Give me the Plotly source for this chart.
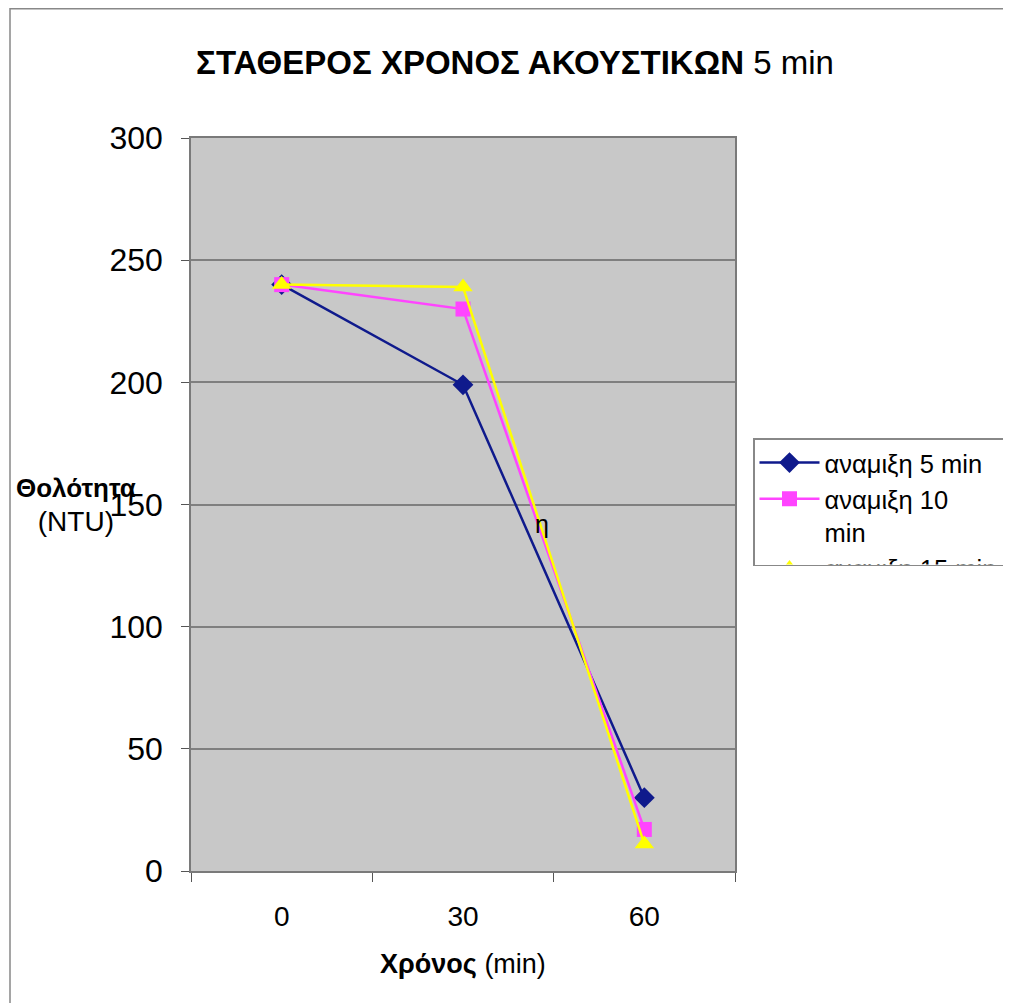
import plotly.graph_objects as go

categories = ["0", "30", "60"]
mix5 = [240, 199, 30]
mix10 = [240, 230, 17]
mix15 = [240, 239, 11]
series_names = ["αναμιξη 5 min", "αναμιξη 10<br>min", "αναμιξη 15 min"]
y_ticks = [0, 50, 100, 150, 200, 250, 300]

# page offset of the plot div (body margin)
O = 8
W, H = 1011 - O, 1003 - O
# plot area in reference pixel coords
X0, X1, Y0, Y1 = 191, 735, 138, 871
L, R, T, B = X0 - O, 1011 - X1, Y0 - O, 1003 - Y1
pw, ph = X1 - X0, Y1 - Y0

def px(xr):
    return (xr - X0) / pw

def py(yr):
    return (Y1 - yr) / ph

FONT = "Liberation Sans, Arial, sans-serif"

fig = go.Figure()
fig.add_trace(go.Scatter(x=categories, y=mix5, name=series_names[0], mode="lines+markers",
                         line=dict(color="#0F1A8C", width=2.5),
                         marker=dict(symbol="diamond", size=16, color="#0F1A8C")))
fig.add_trace(go.Scatter(x=categories, y=mix10, name=series_names[1], mode="lines+markers",
                         line=dict(color="#FF44FF", width=2.5),
                         marker=dict(symbol="square", size=15, color="#FF44FF")))
fig.add_trace(go.Scatter(x=categories, y=mix15, name=series_names[2], mode="lines+markers",
                         line=dict(color="#FFFF00", width=2.5),
                         marker=dict(symbol="triangle-up", size=17, color="#FFFF00")))

fig.update_layout(
    width=W, height=H,
    margin=dict(l=L, r=R, t=T, b=B, autoexpand=False),
    paper_bgcolor="white",
    plot_bgcolor="#C8C8C8",
    font=dict(family=FONT, color="black"),
    title=dict(text="<b>ΣΤΑΘΕΡΟΣ ΧΡΟΝΟΣ ΑΚΟΥΣΤΙΚΩΝ</b> 5 min",
               font=dict(family=FONT, size=33, color="black"),
               x=(515 - O) / W, xanchor="center", y=1 - (62 - O) / H, yanchor="middle",
               xref="container", yref="container"),
    showlegend=True,
    legend=dict(x=px(753), y=py(438), xanchor="left", yanchor="top",
                bgcolor="white", bordercolor="#888888", borderwidth=1.5,
                font=dict(family=FONT, size=25.5, color="black"),
                itemwidth=60, valign="top", maxheight=128,
                traceorder="normal"),
)

fig.update_xaxes(type="category", range=[-0.5, 2.5],
                 showgrid=False, zeroline=False,
                 showline=True, linecolor="#7A7A7A", linewidth=2, mirror=True,
                 ticks="outside", tickson="boundaries", ticklen=9, tickcolor="#555555",
                 tickfont=dict(family=FONT, size=28, color="black"),
                 ticklabelstandoff=19,
                 title=dict(text="<b>Χρόνος</b> (min)", font=dict(family=FONT, size=27, color="black"),
                            standoff=24))
fig.update_yaxes(range=[0, 300], tickvals=y_ticks,
                 showgrid=True, gridcolor="#7F7F7F", gridwidth=1.5, zeroline=False,
                 showline=True, linecolor="#7A7A7A", linewidth=1.5, mirror=True,
                 ticks="outside", ticklen=8, tickcolor="#555555",
                 tickfont=dict(family=FONT, size=32, color="black"),
                 ticklabelstandoff=12)

fig.add_annotation(text="<b>Θολότητα</b><br><span style='font-size:28px'>(NTU)</span>",
                   xref="paper", yref="paper",
                   x=px(76), y=py(505), xanchor="center", yanchor="middle",
                   showarrow=False, font=dict(family=FONT, size=26, color="black"))
fig.add_annotation(text="η", xref="x", yref="y", x=1.435, y=142,
                   showarrow=False, font=dict(family=FONT, size=25, color="black"))

fig.add_shape(type="rect", xref="paper", yref="paper",
              x0=px(10), x1=px(1100), y0=py(1100), y1=py(8.8),
              line=dict(color="#888888", width=1.5), fillcolor="rgba(0,0,0,0)", layer="below")

fig.write_html("out.html")
